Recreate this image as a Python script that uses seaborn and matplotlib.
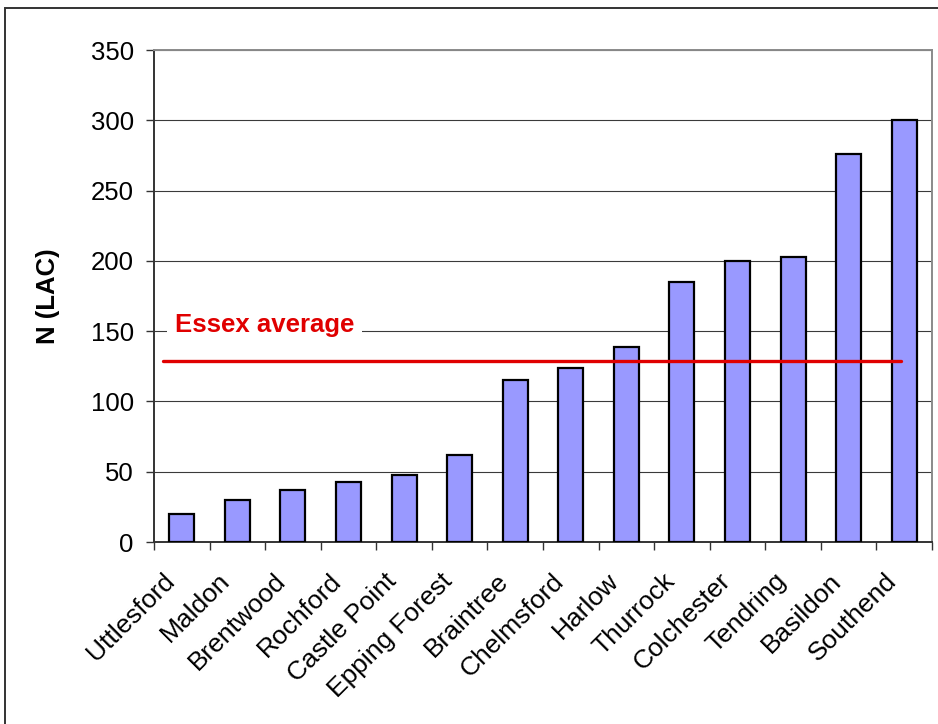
import matplotlib
matplotlib.use("Agg")
import matplotlib.pyplot as plt
import matplotlib.transforms as mtransforms
from matplotlib.patches import Rectangle
import seaborn as sns
import pandas as pd
import numpy as np

# Looked-after children per district, sorted ascending
districts = ["Uttlesford", "Maldon", "Brentwood", "Rochford", "Castle Point",
             "Epping Forest", "Braintree", "Chelmsford", "Harlow", "Thurrock",
             "Colchester", "Tendring", "Basildon", "Southend"]
lac_counts = [20, 30, 37, 43, 48, 62, 115, 124, 139, 185, 200, 203, 276, 300]
essex_average = 128.5
y_ticks = [0, 50, 100, 150, 200, 250, 300, 350]

df = pd.DataFrame({"district": districts, "lac": lac_counts})

sns.set_theme(style="white")
plt.rcParams["font.family"] = ["Liberation Sans", "DejaVu Sans"]

W, H = 938, 724
fig = plt.figure(figsize=(W / 100, H / 100), dpi=100)
ax = fig.add_axes([154 / W, 1 - 542 / H, 778 / W, 492 / H])

sns.barplot(data=df, x="district", y="lac", order=districts, color="#9999FF",
            saturation=1, width=0.45, edgecolor="black", linewidth=1.6, ax=ax,
            zorder=3)

ax.set_xlim(-0.5, len(districts) - 0.5)
ax.set_ylim(0, 350)
ax.set_yticks(y_ticks)
ax.set_yticklabels([str(v) for v in y_ticks])

# Horizontal gridlines
ax.yaxis.grid(True, color="#3a3a3a", linewidth=0.8, zorder=0)
ax.xaxis.grid(False)
ax.set_axisbelow(True)

# Spines: dark on the axes, grey on the plot-area border
for side in ("left", "bottom"):
    ax.spines[side].set_color("#333333")
    ax.spines[side].set_linewidth(1.4)
for side in ("top", "right"):
    ax.spines[side].set_color("#8a8a8a")
    ax.spines[side].set_linewidth(1.4)

fs = 18.5
ax.tick_params(axis="y", which="major", direction="out", length=6, width=1,
               color="#333333", pad=8.5, labelsize=fs, labelcolor="black", left=True)
# category boundaries carry the tick marks, labels sit at the centres
ax.set_xticks(np.arange(-0.5, len(districts)), minor=True)
ax.tick_params(axis="x", which="minor", direction="out", length=6, width=1,
               color="#333333", bottom=True)
ax.tick_params(axis="x", which="major", length=0, pad=29, labelsize=19,
               labelcolor="black")
shift = mtransforms.ScaledTranslation(-6 / 100, 0, fig.dpi_scale_trans)
for lbl in ax.get_xticklabels():
    lbl.set_rotation(45)
    lbl.set_ha("right")
    lbl.set_va("baseline")
    lbl.set_rotation_mode("anchor")
    lbl.set_transform(lbl.get_transform() + shift)

ax.set_xlabel("")
ax.set_ylabel("N (LAC)", fontsize=fs, fontweight="bold", color="black", va="center")
ax.yaxis.set_label_coords((48 - 154) / 778, 0.5)

# County average reference line
red = "#E00000"
ax.axhline(essex_average, xmin=(163 - 154) / 778, xmax=(901 - 154) / 778,
           color=red, linewidth=2.4, zorder=4)
ax.text((175 - 154) / 778, (542 - 332) / 492, "Essex average", transform=ax.transAxes,
        fontsize=fs, fontweight="bold", color=red, ha="left", va="baseline",
        bbox=dict(boxstyle="square,pad=0.3", facecolor="white", edgecolor="none"),
        zorder=5)

# Chart frame
fig.patches.append(Rectangle((4.5 / W, -0.1), 1.2, 1.1 - 8.5 / H,
                             transform=fig.transFigure, fill=False,
                             edgecolor="#333333", linewidth=1.4))

fig.savefig("out.png", dpi=100, facecolor="white")
